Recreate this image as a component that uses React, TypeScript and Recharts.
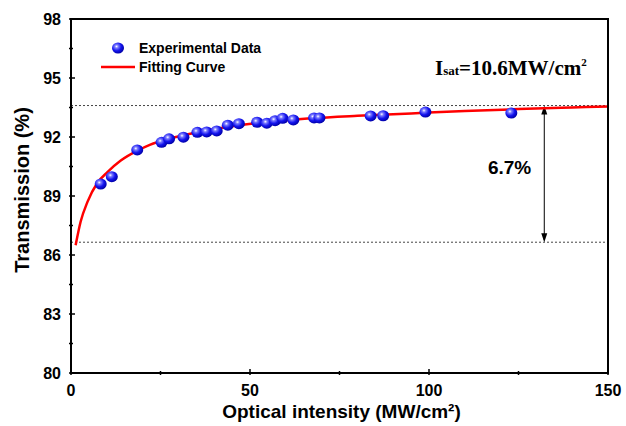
import {
  ComposedChart,
  Legend,
  Line,
  ReferenceLine,
  Scatter,
  XAxis,
  YAxis,
} from "recharts";

// fitting curve
const curveI = [1.3, 2.7, 4.6, 7.3, 10.1, 13.9, 18.5, 22, 27, 33, 40, 48, 57, 67, 80, 95, 110, 125, 140, 150];
const curveT = [86.5, 87.7, 88.7, 89.65, 90.2, 90.8, 91.3, 91.6, 91.9, 92.15, 92.4, 92.62, 92.8, 92.95, 93.08, 93.2, 93.32, 93.42, 93.5, 93.55];

// measured points
const pointI = [8.3, 11.4, 18.5, 25.3, 27.4, 31.4, 35.3, 37.9, 40.7, 43.8, 46.9, 52.0, 54.7, 57.0, 59.1, 62.1, 67.9, 69.4, 83.7, 87.2, 99.0, 123.0];
const pointT = [89.61, 89.98, 91.34, 91.73, 91.91, 91.99, 92.24, 92.26, 92.31, 92.6, 92.68, 92.75, 92.7, 92.83, 92.95, 92.87, 92.97, 92.97, 93.07, 93.08, 93.27, 93.22];

const yMajor = [80, 83, 86, 89, 92, 95, 98];
const yMinor = [81.5, 84.5, 87.5, 90.5, 93.5, 96.5];
const xMajor = [0, 50, 100, 150];
const xMinor = [25, 75, 125];

const plateau = 93.6;
const floor = 86.65;
const arrowAt = 132.2;
const depthLabel = "6.7%";

const curve = curveI.map((x, i) => ({ x, t: curveT[i] }));
const points = pointI.map((x, i) => ({ x, t: pointT[i] }));
const yTicks = [...yMajor, ...yMinor].sort((a, b) => a - b);
const xTicks = [...xMajor, ...xMinor].sort((a, b) => a - b);

const FONT = '"Liberation Sans", Arial, sans-serif';

// plot box (margins + axis sizes below)
const W = 626;
const H = 426;
const M = { top: 19, right: 18, left: 0, bottom: 0 };
const Y_W = 71;
const X_H = 53;

function Sphere({ cx, cy }: any) {
  return (
    <g>
      <defs>
        <radialGradient id="ball" cx="38%" cy="36%" r="65%">
          <stop offset="0%" stopColor="#ffffff" />
          <stop offset="22%" stopColor="#7b7bff" />
          <stop offset="60%" stopColor="#1414ee" />
          <stop offset="100%" stopColor="#0000a8" />
        </radialGradient>
      </defs>
      <ellipse cx={cx} cy={cy} rx={6} ry={5.5} fill="url(#ball)" />
    </g>
  );
}

function YTick({ x, y, payload }: any) {
  const major = yMajor.includes(payload.value);
  return (
    <g>
      <line x1={x} x2={x + (major ? 6 : 4)} y1={y} y2={y} stroke="#000" strokeWidth={1.5} />
      {major && (
        <text x={x - 8} y={y} dy="0.36em" textAnchor="end" fontFamily={FONT} fontWeight="bold" fontSize={16} fill="#000">
          {payload.value}
        </text>
      )}
    </g>
  );
}

function XTick({ x, y, payload }: any) {
  const major = xMajor.includes(payload.value);
  return (
    <g>
      <line x1={x} x2={x} y1={y} y2={y - (major ? 6 : 4)} stroke="#000" strokeWidth={1.5} />
      {major && (
        <text x={x} y={y + 21} textAnchor="middle" fontFamily={FONT} fontWeight="bold" fontSize={16} fill="#000">
          {payload.value}
        </text>
      )}
    </g>
  );
}

function Arrow({ x1, y1, y2 }: any) {
  const top = Math.min(y1, y2);
  const bot = Math.max(y1, y2);
  return (
    <g>
      <line x1={x1} x2={x1} y1={top + 2} y2={bot - 2} stroke="#000" strokeWidth={1} />
      <path d={`M${x1},${top} l-3,9 l6,0 z`} fill="#000" />
      <path d={`M${x1},${bot} l-3,-9 l6,0 z`} fill="#000" />
      <text x={x1 - 13} y={(top + bot) / 2} textAnchor="end" fontFamily={FONT} fontWeight="bold" fontSize={19} fill="#000">
        {depthLabel}
      </text>
    </g>
  );
}

function LegendBox() {
  const row = { display: "flex", alignItems: "center", height: 19 } as const;
  const txt = { fontFamily: FONT, fontWeight: "bold", fontSize: 14, color: "#000", marginLeft: 3, whiteSpace: "nowrap" } as const;
  return (
    <div>
      <div style={row}>
        <svg width={36} height={19}>
          <Sphere cx={18} cy={10} />
        </svg>
        <span style={txt}>Experimental Data</span>
      </div>
      <div style={row}>
        <svg width={36} height={19}>
          <line x1={1} x2={35} y1={10} y2={10} stroke="#ff0000" strokeWidth={2.5} />
        </svg>
        <span style={txt}>Fitting Curve</span>
      </div>
    </div>
  );
}

export default function App() {
  const plotW = W - M.left - M.right - Y_W;
  const plotH = H - M.top - M.bottom - X_H;
  return (
    <div style={{ position: "absolute", left: 0, top: 0, width: W, height: H, background: "#fff" }}>
      <ComposedChart width={W} height={H} margin={M}>
        <XAxis
          type="number"
          dataKey="x"
          domain={[0, 150]}
          ticks={xTicks}
          interval={0}
          tick={<XTick />}
          tickLine={false}
          tickSize={0}
          axisLine={false}
          height={X_H}
          allowDataOverflow
          label={{
            content: ({ viewBox }: any) => (
              <text
                x={viewBox.x + viewBox.width / 2 + 2}
                y={418}
                textAnchor="middle"
                fontFamily={FONT}
                fontWeight="bold"
                fontSize={19}
                fill="#000"
              >
                Optical intensity (MW/cm²)
              </text>
            ),
          }}
        />
        <YAxis
          type="number"
          dataKey="t"
          domain={[80, 98]}
          ticks={yTicks}
          interval={0}
          tick={<YTick />}
          tickLine={false}
          tickSize={0}
          axisLine={false}
          width={Y_W}
          allowDataOverflow
          label={{
            content: ({ viewBox }: any) => {
              const cy = viewBox.y + viewBox.height / 2 - 6;
              return (
                <text
                  x={29}
                  y={cy}
                  transform={`rotate(-90 29 ${cy})`}
                  textAnchor="middle"
                  fontFamily={FONT}
                  fontWeight="bold"
                  fontSize={20}
                  fill="#000"
                >
                  Transmission (%)
                </text>
              );
            },
          }}
        />
        <ReferenceLine y={plateau} stroke="#444" strokeDasharray="2 2" strokeWidth={1} />
        <ReferenceLine y={floor} stroke="#444" strokeDasharray="2 2" strokeWidth={1} />
        <ReferenceLine
          segment={[
            { x: arrowAt, y: plateau },
            { x: arrowAt, y: floor },
          ]}
          shape={(p: any) => <Arrow {...p} />}
        />
        <Line
          data={curve}
          dataKey="t"
          type="monotone"
          stroke="#ff0000"
          strokeWidth={2.5}
          dot={false}
          isAnimationActive={false}
        />
        <Scatter data={points} dataKey="t" shape={(p: any) => <Sphere {...p} />} isAnimationActive={false} />
        <Legend
          layout="horizontal"
          align="center"
          verticalAlign="middle"
          wrapperStyle={{ left: 100, top: 38, width: 220 }}
          content={() => <LegendBox />}
        />
      </ComposedChart>
      {/* plot frame */}
      <div
        style={{
          position: "absolute",
          left: M.left + Y_W - 1,
          top: M.top - 1,
          width: plotW + 2,
          height: plotH + 2,
          boxSizing: "border-box",
          border: "2px solid #000",
          pointerEvents: "none",
          zIndex: 5,
        }}
      />
      <div
        style={{
          position: "absolute",
          left: 435,
          top: 50,
          fontFamily: '"Liberation Serif", "Times New Roman", serif',
          fontWeight: "bold",
          fontSize: 21,
          color: "#000",
          whiteSpace: "nowrap",
          lineHeight: "24px",
        }}
      >
        I<span style={{ fontSize: 13 }}>sat</span>=10.6MW/cm<sup style={{ fontSize: 11, verticalAlign: "9px" }}>2</sup>
      </div>
    </div>
  );
}
